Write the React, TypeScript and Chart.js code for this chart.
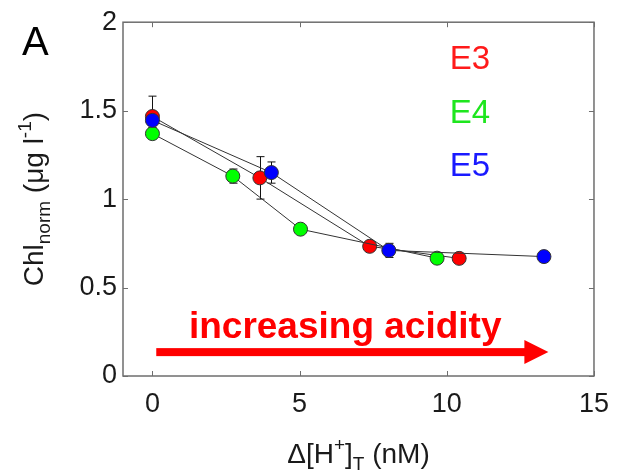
import React, { useEffect, useRef } from 'react';
import { Chart, registerables } from 'chart.js';

Chart.register(...registerables);

// ---- data ----
const xTicks = [0, 5, 10, 15];
const yTicks = [0, 0.5, 1, 1.5, 2];
const yTickLabels = ['0', '0.5', '1', '1.5', '2'];

const e3X = [0, 3.65, 7.38, 10.42];
const e3Y = [1.467, 1.12, 0.733, 0.665];
const e3Err = [0.115, 0.12, 0.02, 0.01];

const e4X = [0, 2.73, 5.03, 9.67];
const e4Y = [1.37, 1.13, 0.83, 0.666];
const e4Err = [0.03, 0.04, 0.02, 0.02];

const e5X = [0, 4.04, 8.03, 13.3];
const e5Y = [1.445, 1.15, 0.71, 0.675];
const e5Err = [0.04, 0.06, 0.04, 0.01];

const seriesNames = ['E3', 'E4', 'E5'];
const seriesColors = ['#ff0000', '#00ff00', '#0000ff'];
const labelColors = ['#ff1a1a', '#1ee61e', '#1a1aff'];
const labelY = [1.733, 1.432, 1.131];
const labelX = 10.1;

const annotationText = 'increasing acidity';
const annotationTextPos = { x: 1.24, y: 0.217 };
const arrowFrom = { x: 0.13, y: 0.135 };
const arrowTo = { x: 13.45, y: 0.135 };

const FONT = '"Liberation Sans", Arial, Helvetica, sans-serif';

const errs = [e3Err, e4Err, e5Err];

type Seg = { t: string; size: number; dy: number };

function drawRich(ctx: CanvasRenderingContext2D, segs: Seg[], cx: number, baseY: number, color: string) {
  let total = 0;
  const widths = segs.map((s) => {
    ctx.font = `${s.size}px ${FONT}`;
    const w = ctx.measureText(s.t).width;
    total += w;
    return w;
  });
  let x = cx - total / 2;
  ctx.fillStyle = color;
  ctx.textBaseline = 'alphabetic';
  ctx.textAlign = 'left';
  segs.forEach((s, i) => {
    ctx.font = `${s.size}px ${FONT}`;
    ctx.fillText(s.t, x, baseY + s.dy);
    x += widths[i];
  });
}

const customPlugin = {
  id: 'custom',
  beforeDatasetsDraw(chart: any) {
    const ctx: CanvasRenderingContext2D = chart.ctx;
    const xs = chart.scales.x;
    const ys = chart.scales.y;
    ctx.save();
    ctx.strokeStyle = '#111';
    ctx.lineWidth = 1;
    chart.data.datasets.forEach((ds: any, di: number) => {
      ds.data.forEach((p: any, i: number) => {
        const e = errs[di][i];
        const px = Math.round(xs.getPixelForValue(p.x)) + 0.5;
        const top = ys.getPixelForValue(p.y + e);
        const bot = ys.getPixelForValue(p.y - e);
        ctx.beginPath();
        ctx.moveTo(px, top);
        ctx.lineTo(px, bot);
        ctx.moveTo(px - 4, top);
        ctx.lineTo(px + 4, top);
        ctx.moveTo(px - 4, bot);
        ctx.lineTo(px + 4, bot);
        ctx.stroke();
      });
    });
    ctx.restore();
  },
  afterDraw(chart: any) {
    const ctx: CanvasRenderingContext2D = chart.ctx;
    const xs = chart.scales.x;
    const ys = chart.scales.y;
    const a = chart.chartArea;
    ctx.save();
    // frame
    ctx.strokeStyle = '#6e6e6e';
    ctx.lineWidth = 1.5;
    ctx.strokeRect(a.left, a.top, a.right - a.left, a.bottom - a.top);
    ctx.lineWidth = 1;
    ctx.beginPath();
    xTicks.forEach((v) => {
      const px = Math.round(xs.getPixelForValue(v)) + 0.5;
      ctx.moveTo(px, a.bottom);
      ctx.lineTo(px, a.bottom - 5);
      ctx.moveTo(px, a.top);
      ctx.lineTo(px, a.top + 5);
    });
    yTicks.forEach((v) => {
      const py = Math.round(ys.getPixelForValue(v)) + 0.5;
      ctx.moveTo(a.left, py);
      ctx.lineTo(a.left + 5, py);
      ctx.moveTo(a.right, py);
      ctx.lineTo(a.right - 5, py);
    });
    ctx.stroke();

    // series labels
    ctx.font = `33px ${FONT}`;
    ctx.textAlign = 'left';
    ctx.textBaseline = 'alphabetic';
    seriesNames.forEach((n, i) => {
      ctx.fillStyle = labelColors[i];
      ctx.fillText(n, xs.getPixelForValue(labelX), ys.getPixelForValue(labelY[i]));
    });

    // annotation text
    ctx.font = `bold 37px ${FONT}`;
    ctx.fillStyle = '#ff0000';
    ctx.fillText(annotationText, xs.getPixelForValue(annotationTextPos.x), ys.getPixelForValue(annotationTextPos.y));

    // arrow
    const x0 = xs.getPixelForValue(arrowFrom.x);
    const x1 = xs.getPixelForValue(arrowTo.x);
    const ay = ys.getPixelForValue(arrowFrom.y);
    const headL = 24;
    const headH = 12;
    ctx.fillStyle = '#ff0000';
    ctx.fillRect(x0, ay - 4, x1 - headL - x0 + 1, 8);
    ctx.beginPath();
    ctx.moveTo(x1 - headL, ay - headH);
    ctx.lineTo(x1, ay);
    ctx.lineTo(x1 - headL, ay + headH);
    ctx.closePath();
    ctx.fill();

    // panel letter
    ctx.font = `40px ${FONT}`;
    ctx.fillStyle = '#000';
    ctx.fillText('A', 22, 55);

    // x title
    drawRich(
      ctx,
      [
        { t: 'Δ[H', size: 28, dy: 0 },
        { t: '+', size: 19, dy: -12 },
        { t: ']', size: 28, dy: 0 },
        { t: 'T', size: 19, dy: 7 },
        { t: ' (nM)', size: 28, dy: 0 },
      ],
      (a.left + a.right) / 2,
      463,
      '#1a1a1a'
    );

    // y title
    ctx.translate(43, (a.top + a.bottom) / 2);
    ctx.rotate(-Math.PI / 2);
    drawRich(
      ctx,
      [
        { t: 'Chl', size: 28, dy: 0 },
        { t: 'norm', size: 19, dy: 7 },
        { t: ' (μg l', size: 28, dy: 0 },
        { t: '-1', size: 19, dy: -12 },
        { t: ')', size: 28, dy: 0 },
      ],
      0,
      0,
      '#1a1a1a'
    );
    ctx.restore();
  },
};

export default function App() {
  const ref = useRef<HTMLCanvasElement | null>(null);
  useEffect(() => {
    if (!ref.current) return;
    const mk = (xv: number[], yv: number[]) => xv.map((x, i) => ({ x, y: yv[i] }));
    const chart = new Chart(ref.current, {
      type: 'scatter',
      data: {
        datasets: [
          { label: 'E3', data: mk(e3X, e3Y), order: 2 },
          { label: 'E4', data: mk(e4X, e4Y), order: 1 },
          { label: 'E5', data: mk(e5X, e5Y), order: 0 },
        ].map((d, i) => ({
          ...d,
          showLine: true,
          borderColor: '#333333',
          borderWidth: 1,
          pointRadius: 7,
          pointHoverRadius: 7,
          pointBackgroundColor: seriesColors[i],
          pointBorderColor: '#333333',
          pointBorderWidth: 1,
        })),
      },
      options: {
        animation: false,
        responsive: false,
        devicePixelRatio: 1,
        layout: { padding: { top: 17, right: 21, left: 0, bottom: 0 } },
        plugins: { legend: { display: false }, tooltip: { enabled: false } },
        scales: {
          x: {
            type: 'linear',
            min: -1,
            max: 15,
            afterBuildTicks: (s: any) => {
              s.ticks = xTicks.map((v) => ({ value: v }));
            },
            afterFit: (s: any) => {
              s.height = 96;
            },
            grid: { display: false, drawTicks: false },
            border: { display: false },
            ticks: {
              padding: 12,
              color: '#1a1a1a',
              font: { size: 27, family: FONT },
              maxRotation: 0,
              callback: (v: any) => String(v),
            },
          },
          y: {
            type: 'linear',
            min: 0,
            max: 2,
            afterBuildTicks: (s: any) => {
              s.ticks = yTicks.map((v) => ({ value: v }));
            },
            afterFit: (s: any) => {
              s.width = 123;
            },
            grid: { display: false, drawTicks: false },
            border: { display: false },
            ticks: {
              padding: 6,
              color: '#1a1a1a',
              font: { size: 27, family: FONT },
              callback: (v: any) => {
                const idx = yTicks.indexOf(Number(v));
                return idx >= 0 ? yTickLabels[idx] : String(v);
              },
            },
          },
        },
      },
      plugins: [customPlugin],
    } as any);
    return () => chart.destroy();
  }, []);
  return (
    <div style={{ position: 'fixed', left: 0, top: 0, width: 621, height: 472, background: '#fff' }}>
      <canvas ref={ref} width={621} height={472} style={{ width: 621, height: 472, display: 'block' }} />
    </div>
  );
}
